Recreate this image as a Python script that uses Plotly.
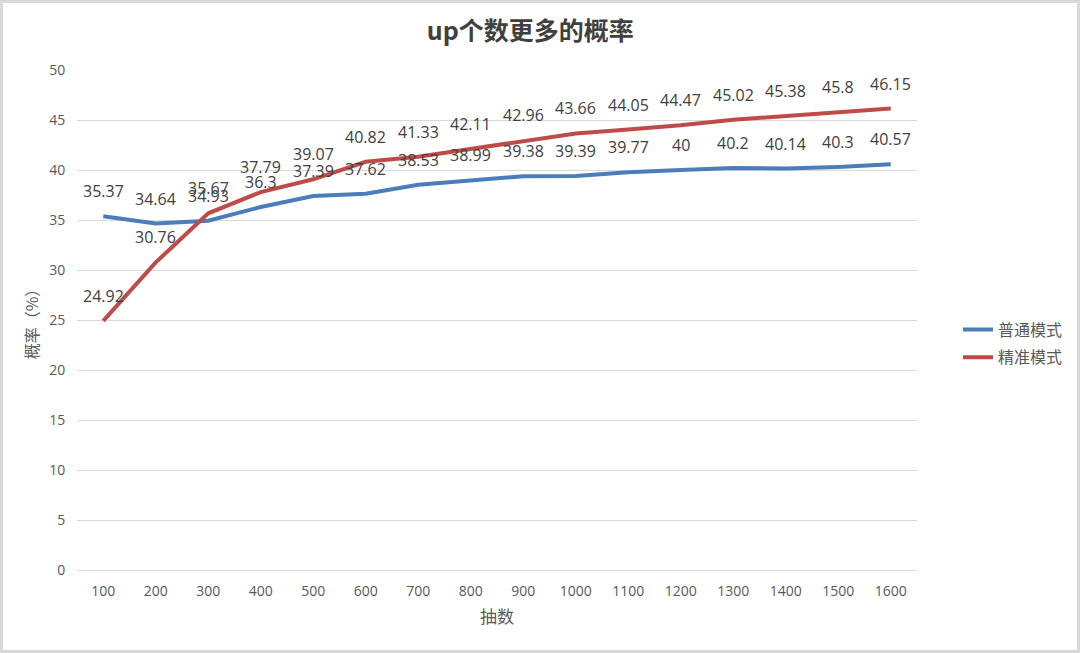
import plotly.graph_objects as go

categories = ["100", "200", "300", "400", "500", "600", "700", "800",
              "900", "1000", "1100", "1200", "1300", "1400", "1500", "1600"]
normal_mode = [35.37, 34.64, 34.93, 36.3, 37.39, 37.62, 38.53, 38.99,
               39.38, 39.39, 39.77, 40, 40.2, 40.14, 40.3, 40.57]
precise_mode = [24.92, 30.76, 35.67, 37.79, 39.07, 40.82, 41.33, 42.11,
                42.96, 43.66, 44.05, 44.47, 45.02, 45.38, 45.8, 46.15]
series_names = ["普通模式", "精准模式"]
y_ticks = [0, 5, 10, 15, 20, 25, 30, 35, 40, 45, 50]

W, H = 1080, 653
ML, MR, MT, MB = 77, 163, 70, 83
PW, PH = W - ML - MR, H - MT - MB

blue = "#4a7ebb"
red = "#be4b48"
grid = "#d9d9d9"
txt = "#595959"
lbl = "#404040"
num_font = "Open Sans"
cjk = "Noto Sans CJK SC"

fig = go.Figure()
fig.add_trace(go.Scatter(x=categories, y=normal_mode, name=series_names[0],
                         legendgroup="a",
                         mode="lines", line=dict(color=blue, width=4)))
fig.add_trace(go.Scatter(x=categories, y=precise_mode, name=series_names[1],
                         legendgroup="b",
                         mode="lines", line=dict(color=red, width=4)))

for series in (normal_mode, precise_mode):
    for i, v in enumerate(series):
        fig.add_annotation(x=i, y=v, text=f"{v:g}", showarrow=False,
                           yshift=25, font=dict(family=num_font, size=16, color=lbl))

# outer border
fig.add_shape(type="rect", xref="paper", yref="paper",
              x0=(-ML + 1.5) / PW, x1=(PW + MR - 1.5) / PW,
              y0=(-MB + 1.5) / PH, y1=(PH + MT - 1.5) / PH,
              line=dict(color="#d9d9d9", width=3), layer="below")

fig.update_layout(
    width=W, height=H,
    margin=dict(l=ML, r=MR, t=MT, b=MB),
    paper_bgcolor="white", plot_bgcolor="white",
    title=dict(text="<b>up个数更多的概率</b>", x=0.491, xanchor="center",
               y=1 - 31 / H, yanchor="middle",
               font=dict(family=cjk, size=25, color="#404040")),
    legend=dict(x=1.0488, xanchor="left", y=0.453, yanchor="middle",
                font=dict(family=cjk, size=16, color=txt),
                bgcolor="rgba(0,0,0,0)", tracegroupgap=4,
                traceorder="grouped"),
    xaxis=dict(type="category", showgrid=False, zeroline=False,
               showline=False, ticks="outside", ticklen=8, tickcolor="white",
               tickfont=dict(family=num_font, size=14, color=txt),
               title=dict(text="抽数", font=dict(family=cjk, size=17, color=txt),
                          standoff=12),
               range=[-0.5, 15.5]),
    yaxis=dict(range=[0, 50], tickvals=y_ticks, showgrid=True, gridcolor=grid,
               gridwidth=1, zeroline=True, zerolinecolor=grid, zerolinewidth=1,
               showline=False, ticks="outside", ticklen=8, tickcolor="white",
               tickfont=dict(family=num_font, size=14, color=txt),
               title=dict(text="概率（%）", font=dict(family=cjk, size=16, color=txt),
                          standoff=6)),
)

fig.write_html("out.html", config={"displayModeBar": False},
               post_script="document.body.style.margin='0';")
